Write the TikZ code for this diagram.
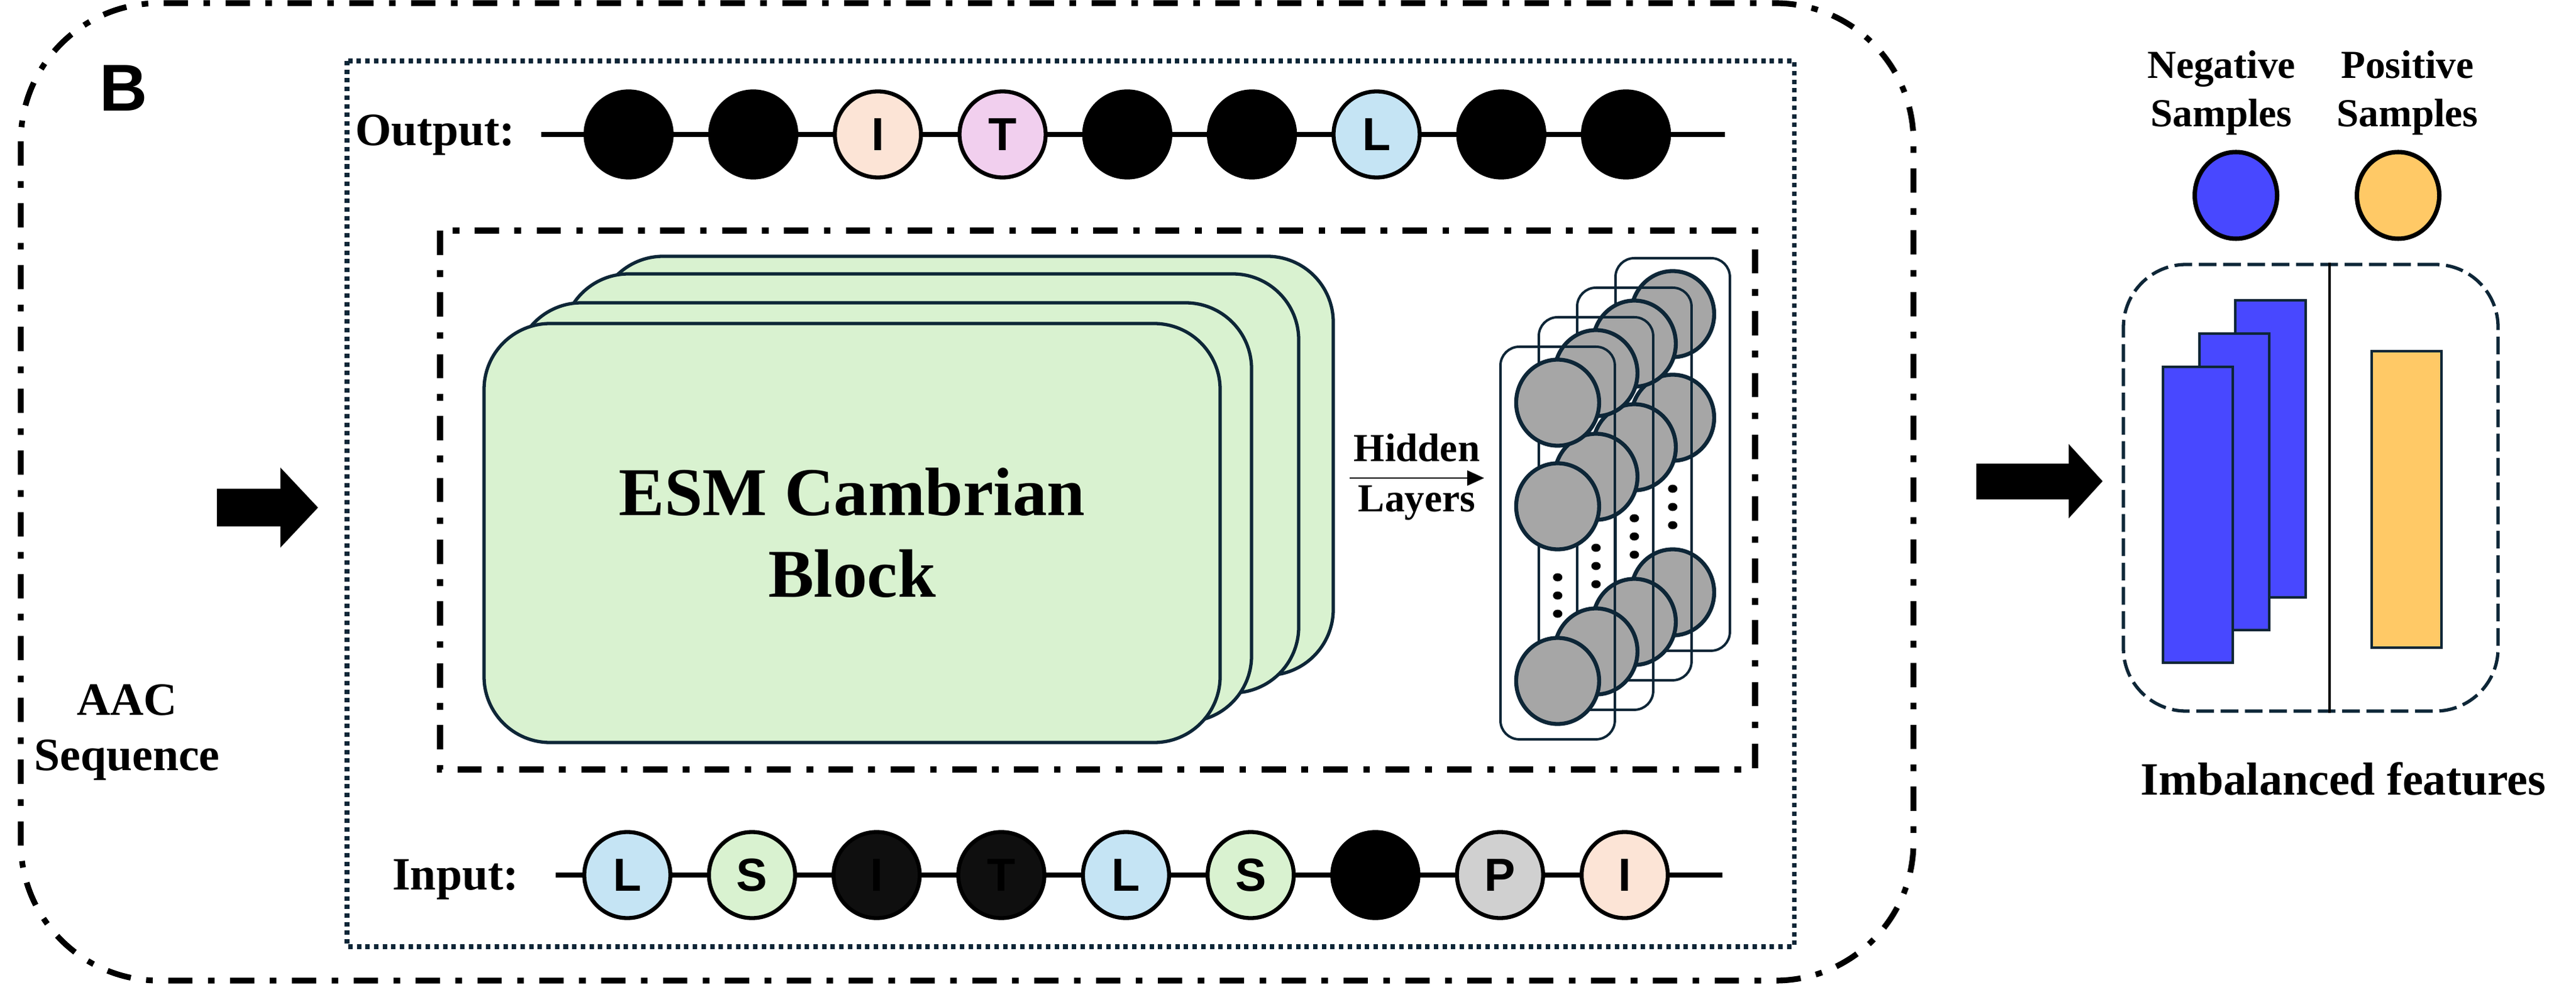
\documentclass[tikz,border=0pt]{standalone}
\usepackage{fontspec}
\setmainfont{Liberation Serif}
\setsansfont{Liberation Sans}
\usetikzlibrary{positioning,arrows.meta,shapes.geometric}
\definecolor{navy}{RGB}{13,38,55}
\definecolor{esmgreen}{RGB}{217,242,208}
\definecolor{lblue}{RGB}{197,228,244}
\definecolor{lgreen}{RGB}{217,242,208}
\definecolor{peach}{RGB}{252,228,214}
\definecolor{pink}{RGB}{241,207,238}
\definecolor{pgrey}{RGB}{208,208,208}
\definecolor{dark}{RGB}{15,15,15}
\definecolor{hgrey}{RGB}{166,166,166}
\definecolor{negblue}{RGB}{72,72,255}
\definecolor{posyellow}{RGB}{255,201,102}
\tikzset{
  frameline/.style={line width=2.6pt, dash pattern=on 11pt off 7pt on 3pt off 7pt},
  lbl/.style={inner sep=0pt, font=\bfseries\fontsize{21}{25}\selectfont},
  lblsm/.style={inner sep=0pt, font=\bfseries\fontsize{18}{22}\selectfont},
  aa/.style={circle, draw=black, line width=1.8pt, minimum size=1.37cm, inner sep=0pt,
    font=\sffamily\bfseries\fontsize{21}{25}\selectfont},
  chainline/.style={line width=2pt},
  esm/.style={rectangle, draw=navy, fill=esmgreen, line width=1.5pt, rounded corners=1.05cm,
    minimum width=11.71cm, minimum height=6.67cm, align=center,
    font=\bfseries\fontsize{31}{37}\selectfont},
  hlayer/.style={rectangle, draw=navy, line width=1.1pt, rounded corners=0.3cm,
    minimum width=1.82cm, minimum height=6.25cm, inner sep=0pt},
  hunit/.style={ellipse, draw=navy, fill=hgrey, line width=1.8pt, minimum width=1.32cm,
    minimum height=1.37cm, inner sep=0pt},
  hdot/.style={ellipse, fill=black, minimum width=0.15cm, minimum height=0.13cm, inner sep=0pt},
  sample/.style={ellipse, draw=black, line width=2pt, minimum width=1.31cm, minimum height=1.38cm},
  featbox/.style={rectangle, draw=navy, line width=1.5pt, dash pattern=on 8pt off 3pt,
    rounded corners=1cm, minimum width=5.96cm, minimum height=7.11cm},
  bar/.style={draw=navy, line width=1.2pt},
  bigarrow/.style={line width=#1}
}
\begin{document}
\begin{tikzpicture}
\useasboundingbox (0,0) rectangle (40.98,-15.68);

\draw[frameline, rounded corners=2.2cm] (0.33,-0.05) rectangle (30.44,-15.61);
\draw[navy, line width=2pt, dash pattern=on 2pt off 1.9pt] (5.52,-0.97) rectangle (28.54,-15.07);
\draw[frameline] (7.00,-3.67) rectangle (27.92,-12.25);

\node[font=\sffamily\bfseries\fontsize{30}{36}\selectfont, anchor=base, inner sep=0pt] (panel) at (1.97,-1.77) {B};
\node[lbl, align=center, anchor=north] (aac) at (2.02,-10.89) {AAC\\Sequence};

\coordinate (la0) at (3.45,-8.08);
\coordinate (la1) at (5.06,-8.08);
\draw[bigarrow=0.6cm, -{Triangle[length=0.6cm,width=1.24cm]}] (la0) -- (la1);

\coordinate (ol) at (8.61,-2.14);
\coordinate (or) at (27.44,-2.14);
\draw[chainline] (ol) -- (or);
\node[lbl, anchor=base east] (outl) at (8.20,-2.32) {Output:};
\node[aa, fill=black] (o0) at (10.00,-2.14) {};
\foreach \f/\t [count=\i from 1, remember=\i as \j (initially 0)] in
  {black/, peach/I, pink/T, black/, black/, lblue/L, black/, black/}
  \node[aa, fill=\f, right=0.55cm of o\j] (o\i) {\t};

\coordinate (il) at (8.84,-13.93);
\coordinate (ir) at (27.40,-13.93);
\draw[chainline] (il) -- (ir);
\node[lbl, anchor=base east] (inl) at (8.26,-14.16) {Input:};
\node[aa, fill=lblue] (i0) at (9.98,-13.93) {L};
\foreach \f/\t [count=\i from 1, remember=\i as \j (initially 0)] in
  {lgreen/S, dark/I, dark/T, lblue/L, lgreen/S, black/, pgrey/P, peach/I}
  \node[aa, fill=\f, right=0.55cm of i\j] (i\i) {\t};

\foreach \s/\dx/\dy in {3/1.80/1.07, 2/1.25/0.79, 1/0.50/0.33}
  \node[esm] (esm\s) at ({13.555+\dx},{-8.485+\dy}) {};
\node[esm] (esm0) at (13.555,-8.485) {ESM Cambrian\\Block};

\coordinate (hl0) at (21.47,-7.61);
\coordinate (hl1) at (23.61,-7.61);
\draw[line width=0.8pt, -{Triangle[length=0.27cm,width=0.24cm]}] (hl0) -- (hl1)
  node[lblsm, midway, above=0.24cm] (hid) {Hidden}
  node[lblsm, midway, below=0.11cm] (lay) {Layers};

\foreach \k in {3,2,1,0}{
  \node[hlayer, anchor=north west] (r\k) at ({23.85+0.61*\k},{-5.50+0.47*\k}) {};
  \path (r\k.north) ++ (0,-0.91) node[hunit] (ha\k) {};
  \path (r\k.north) ++ (0,-2.56) node[hunit] (hb\k) {};
  \foreach \d [count=\n] in {3.69,3.98,4.27}
    \path (r\k.north) ++ (0,-\d) node[hdot] (hd\k-\n) {};
  \path (r\k.north) ++ (0,-5.34) node[hunit] (hc\k) {};
}

\coordinate (ra0) at (31.44,-7.66);
\coordinate (ra1) at (33.45,-7.66);
\draw[bigarrow=0.57cm, -{Triangle[length=0.54cm,width=1.15cm]}] (ra0) -- (ra1);

\node[lblsm, align=center, anchor=north] (negt) at (35.34,-0.80) {Negative\\Samples};
\node[lblsm, align=center, anchor=north] (post) at (38.30,-0.80) {Positive\\Samples};
\node[sample, fill=negblue] (negc) at (35.57,-3.11) {};
\node[sample, fill=posyellow] (posc) at (38.15,-3.11) {};

\node[featbox] (fb) at (36.76,-7.765) {};
\draw[line width=1pt] ([xshift=0.3cm]fb.north) -- ([xshift=0.3cm]fb.south);
\draw[bar, fill=negblue] (35.56,-4.78) rectangle (36.68,-9.51);
\draw[bar, fill=negblue] (34.99,-5.31) rectangle (36.10,-10.03);
\draw[bar, fill=negblue] (34.41,-5.84) rectangle (35.52,-10.55);
\draw[bar, fill=posyellow] (37.73,-5.59) rectangle (38.84,-10.31);
\node[lbl, anchor=base] (imb) at (37.28,-12.65) {Imbalanced features};
\end{tikzpicture}
\end{document}
